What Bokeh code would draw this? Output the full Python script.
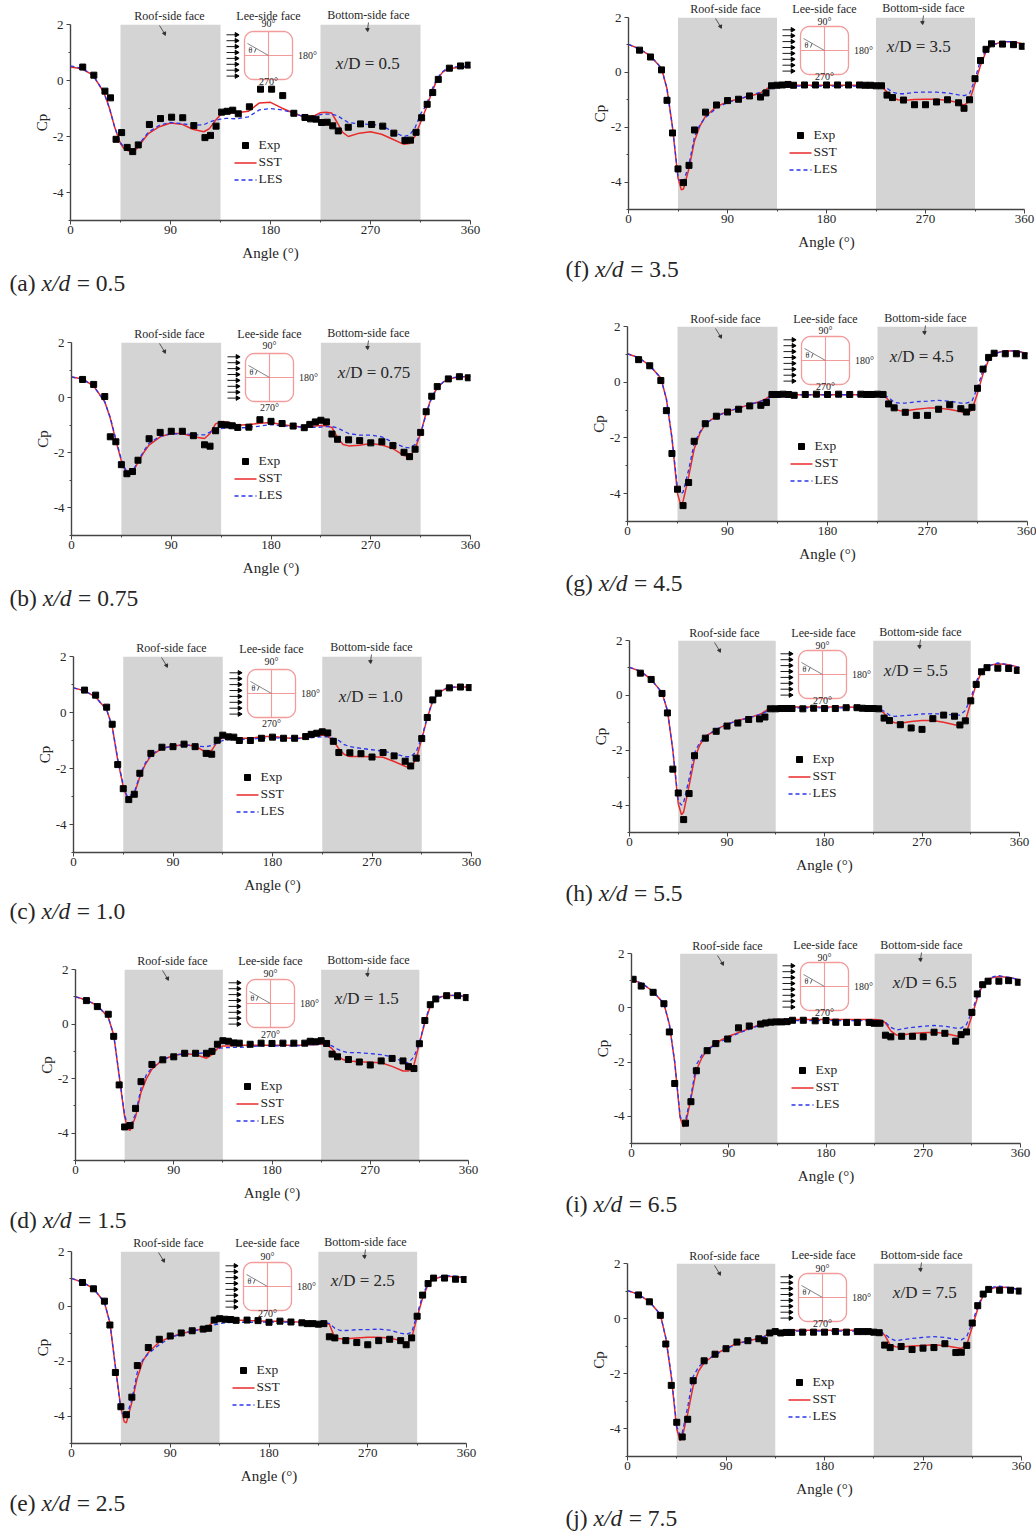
import math
import numpy as np
from bokeh.plotting import figure
from bokeh.layouts import row, column
from bokeh.models import Label, FixedTicker
from bokeh.embed import file_html
from bokeh.resources import INLINE

# ---------- data ----------
CURVE_ANGLE = [0,10,20,30,35,40,45,48,50,55,60,65,70,80,90,100,110,120,125,130,135,140,150,160,170,180,190,200,210,220,225,230,235,240,245,250,260,270,280,290,300,305,310,315,320,325,330,335,340,350,360]
EXP_ANGLE = [10,20,30,35,40,45,50,55,60,70,80,90,100,110,120,125,130,135,140,145,150,160,170,180,190,200,210,215,220,225,230,235,240,250,260,270,280,290,300,305,310,315,320,325,330,340,350,358]
EXP_ANGLE_A = [11,21,31,36,41,46,51,56,61,71,81,91,101,111,121,126,131,136,141,146,151,161,171,181,191,201,211,216,221,226,231,236,241,250,261,271,281,291,301,306,311,316,321,326,331,341,351,358]
EXP_ANGLE_I = [1.5,9,20,30,35,40,50,55,60,70,78,89,99,109,119.5,124,129,134,139,144,149,159,170,180,189,199,209,220,224.5,230,235,240,250,260,270,280,290,300,305,310,315,320,325,330,340,349,358]

EXP_A = [.48,.19,-.38,-.62,-2.1,-1.86,-2.39,-2.54,-2.3,-1.57,-1.36,-1.31,-1.33,-1.61,-2.04,-1.96,-1.63,-1.13,-1.1,-1.06,-1.19,-.94,-.31,-.31,-.54,-1.17,-1.32,-1.37,-1.38,-1.5,-1.49,-1.62,-1.8,-1.67,-1.55,-1.57,-1.63,-1.88,-2.14,-2.13,-1.85,-1.33,-.85,-.43,.04,.44,.52,.55]
EXP_B = [.66,.48,.04,-1.42,-1.6,-2.43,-2.76,-2.68,-2.27,-1.49,-1.26,-1.22,-1.22,-1.38,-1.71,-1.76,-1.2,-.97,-.99,-1.02,-1.08,-1.07,-.8,-.86,-.94,-1.03,-1.09,-.97,-.88,-.82,-.88,-1.32,-1.51,-1.53,-1.56,-1.64,-1.6,-1.74,-1.98,-2.14,-1.87,-1.26,-.51,.05,.4,.68,.76,.72]
EXP_C = [.8,.62,.19,-.42,-1.86,-2.72,-3.11,-2.92,-2.17,-1.46,-1.24,-1.22,-1.13,-1.22,-1.46,-1.49,-.99,-.81,-.87,-.88,-1.0,-1.0,-.92,-.88,-.92,-.92,-.86,-.78,-.74,-.69,-.73,-1.03,-1.43,-1.44,-1.47,-1.59,-1.43,-1.55,-1.74,-1.91,-1.63,-.93,-.18,.45,.69,.88,.91,.89]
EXP_D = [.86,.64,.36,-.45,-2.23,-3.77,-3.72,-3.09,-2.11,-1.48,-1.31,-1.2,-1.07,-1.07,-1.07,-1.0,-.74,-.61,-.63,-.69,-.7,-.74,-.7,-.71,-.7,-.7,-.7,-.63,-.65,-.61,-.71,-1.1,-1.2,-1.3,-1.39,-1.5,-1.35,-1.26,-1.35,-1.56,-1.63,-.72,.13,.71,.92,1.04,1.04,.97]
EXP_E = [.87,.64,.19,-.68,-2.41,-3.66,-3.95,-3.31,-2.16,-1.5,-1.2,-1.08,-.97,-.89,-.83,-.8,-.5,-.45,-.47,-.48,-.51,-.5,-.52,-.58,-.54,-.57,-.6,-.63,-.63,-.65,-.63,-1.11,-1.15,-1.25,-1.32,-1.4,-1.25,-1.2,-1.25,-1.4,-1.15,-.36,.41,.83,1.03,1.03,.99,.98]
EXP_F = [.81,.56,.09,-1.02,-2.21,-3.52,-4.02,-3.39,-2.1,-1.45,-1.19,-1.03,-.98,-.86,-.9,-.75,-.49,-.47,-.46,-.44,-.47,-.46,-.46,-.46,-.46,-.46,-.46,-.47,-.47,-.49,-.49,-.83,-.92,-1.01,-1.18,-1.18,-1.08,-1.0,-1.11,-1.31,-1.0,-.23,.43,.84,1.04,1.03,1.01,.95]
EXP_G = [.81,.59,.06,-1.02,-2.56,-3.84,-4.43,-3.6,-2.12,-1.49,-1.22,-1.07,-.97,-.85,-.83,-.73,-.44,-.44,-.43,-.44,-.47,-.44,-.43,-.44,-.43,-.44,-.43,-.44,-.44,-.43,-.44,-.78,-.92,-1.08,-1.19,-1.19,-.97,-.81,-.95,-1.07,-.9,-.22,.47,.89,1.04,1.02,1.02,.95]
EXP_H = [.81,.58,.07,-.64,-2.69,-3.56,-4.53,-3.58,-2.2,-1.56,-1.31,-1.12,-1.01,-.88,-.86,-.79,-.49,-.49,-.48,-.48,-.48,-.49,-.47,-.48,-.48,-.45,-.45,-.47,-.48,-.48,-.49,-.83,-.92,-1.07,-1.19,-1.24,-.85,-.72,-.76,-1.08,-.93,-.2,.4,.86,1.01,.99,.98,.91]
EXP_I = [1.05,.8,.57,.15,-.89,-2.79,-4.25,-3.46,-2.32,-1.58,-1.32,-1.15,-.74,-.67,-.6,-.56,-.53,-.52,-.52,-.51,-.46,-.46,-.48,-.47,-.53,-.54,-.54,-.54,-.57,-.57,-1.01,-1.07,-1.05,-1.05,-1.07,-.9,-.94,-1.23,-.99,-.89,-.17,.51,.85,.98,.98,1.0,.94]
EXP_J = [.86,.61,.12,-.92,-2.42,-3.76,-4.29,-3.65,-2.25,-1.53,-1.29,-1.09,-.85,-.8,-.73,-.8,-.52,-.47,-.52,-.5,-.5,-.49,-.49,-.49,-.47,-.49,-.47,-.47,-.47,-.49,-.51,-.96,-1.05,-1.01,-1.12,-1.07,-1.05,-.91,-1.23,-1.22,-.97,-.16,.47,.89,1.06,1.03,1.03,1.0]

SST_A = [.48,.42,.2,-.42,-.98,-1.7,-2.25,-2.42,-2.48,-2.55,-2.42,-2.15,-1.9,-1.65,-1.52,-1.56,-1.74,-1.83,-1.72,-1.45,-1.22,-1.18,-1.15,-1.1,-.8,-.78,-.98,-1.15,-1.3,-1.25,-1.15,-1.13,-1.16,-1.5,-1.85,-2.0,-1.88,-1.83,-1.92,-2.1,-2.28,-2.25,-2.0,-1.5,-1.0,-.45,.05,.3,.42,.47,.48]
LES_A = [.52,.44,.2,-.42,-.98,-1.7,-2.22,-2.38,-2.45,-2.5,-2.38,-2.1,-1.85,-1.6,-1.5,-1.54,-1.6,-1.58,-1.48,-1.42,-1.38,-1.35,-1.37,-1.3,-1.05,-1.0,-1.05,-1.15,-1.3,-1.28,-1.22,-1.2,-1.2,-1.25,-1.38,-1.5,-1.55,-1.57,-1.6,-1.83,-2.0,-1.95,-1.7,-1.2,-.9,-.35,.08,.32,.47,.5,.5]
SST_B = [.75,.68,.42,-.15,-.75,-1.55,-2.3,-2.6,-2.72,-2.72,-2.35,-2.0,-1.72,-1.42,-1.3,-1.3,-1.42,-1.48,-1.3,-.95,-.87,-.88,-1.0,-.97,-.93,-.9,-.98,-1.03,-1.07,-1.03,-1.01,-1.02,-1.08,-1.45,-1.7,-1.75,-1.73,-1.66,-1.72,-1.85,-2.1,-2.15,-1.85,-1.3,-.55,.02,.35,.55,.68,.76,.76]
LES_B = [.75,.67,.42,-.15,-.72,-1.5,-2.25,-2.55,-2.68,-2.68,-2.3,-1.95,-1.65,-1.4,-1.32,-1.3,-1.35,-1.35,-1.25,-1.15,-1.12,-1.1,-1.1,-1.08,-1.03,-.98,-1.02,-1.05,-1.07,-1.08,-1.07,-1.05,-1.05,-1.1,-1.2,-1.3,-1.36,-1.36,-1.42,-1.62,-1.8,-1.82,-1.7,-1.3,-.6,0,.35,.55,.7,.76,.76]
SST_C = [.88,.78,.55,.1,-.5,-1.7,-2.65,-3.0,-3.05,-2.9,-2.3,-1.85,-1.55,-1.28,-1.2,-1.15,-1.2,-1.42,-1.35,-1.05,-.88,-.87,-.92,-.92,-.87,-.85,-.9,-.93,-.9,-.82,-.8,-.85,-1.0,-1.3,-1.5,-1.57,-1.57,-1.58,-1.6,-1.75,-1.92,-1.98,-1.65,-.95,-.2,.42,.68,.82,.88,.92,.9]
LES_C = [.88,.78,.55,.1,-.5,-1.65,-2.6,-2.95,-3.0,-2.85,-2.25,-1.8,-1.5,-1.28,-1.2,-1.15,-1.2,-1.22,-1.18,-1.08,-1.0,-.97,-.97,-.95,-.92,-.9,-.92,-.93,-.92,-.88,-.87,-.87,-.92,-1.0,-1.15,-1.22,-1.28,-1.33,-1.38,-1.47,-1.58,-1.58,-1.4,-.9,-.15,.42,.7,.84,.9,.92,.9]
SST_D = [1.0,.88,.68,.25,-.4,-1.9,-3.4,-3.85,-3.9,-3.4,-2.5,-2.0,-1.65,-1.3,-1.15,-1.08,-1.12,-1.25,-1.12,-.9,-.8,-.8,-.78,-.78,-.78,-.78,-.78,-.78,-.77,-.75,-.73,-.75,-.9,-1.15,-1.3,-1.35,-1.38,-1.4,-1.42,-1.55,-1.72,-1.72,-1.5,-.72,.05,.65,.92,1.0,1.05,1.05,1.0]
LES_D = [1.0,.88,.68,.25,-.4,-1.85,-3.35,-3.7,-3.75,-3.3,-2.35,-1.85,-1.6,-1.3,-1.15,-1.08,-1.08,-1.05,-1.0,-.9,-.87,-.86,-.85,-.83,-.8,-.8,-.8,-.8,-.78,-.75,-.73,-.72,-.8,-.92,-1.0,-1.05,-1.05,-1.08,-1.12,-1.2,-1.38,-1.42,-1.2,-.7,.1,.7,.92,1.0,1.05,1.05,1.0]
SST_E = [1.02,.88,.65,.15,-.6,-2.2,-3.7,-4.2,-4.25,-3.5,-2.6,-2.0,-1.68,-1.3,-1.12,-1.0,-.9,-.82,-.72,-.52,-.5,-.5,-.5,-.52,-.53,-.54,-.54,-.56,-.57,-.6,-.6,-.6,-.65,-1.15,-1.18,-1.18,-1.15,-1.13,-1.13,-1.15,-1.25,-1.38,-1.15,-.4,.3,.8,1.0,1.05,1.1,1.08,1.03]
LES_E = [1.02,.88,.65,.15,-.6,-2.2,-3.8,-4.0,-4.02,-3.4,-2.4,-1.95,-1.72,-1.4,-1.15,-1.0,-.9,-.83,-.77,-.68,-.63,-.6,-.58,-.58,-.58,-.57,-.57,-.58,-.6,-.62,-.62,-.6,-.62,-.8,-.88,-.88,-.85,-.85,-.83,-.87,-.98,-1.02,-.95,-.3,.4,.85,1.0,1.05,1.12,1.1,1.03]
SST_F = [1.02,.85,.6,.15,-.6,-2.0,-3.85,-4.28,-4.25,-3.5,-2.5,-1.95,-1.6,-1.25,-1.07,-.97,-.87,-.75,-.62,-.48,-.47,-.47,-.47,-.47,-.47,-.47,-.47,-.47,-.47,-.47,-.47,-.5,-.72,-.92,-1.0,-1.03,-.99,-.98,-.98,-1.03,-1.1,-1.2,-1.05,-.4,.25,.75,1.0,1.05,1.12,1.12,1.02]
LES_F = [1.02,.85,.6,.15,-.6,-2.0,-3.8,-4.05,-4.0,-3.35,-2.35,-1.9,-1.65,-1.3,-1.1,-.98,-.85,-.72,-.65,-.57,-.52,-.5,-.5,-.5,-.5,-.5,-.5,-.5,-.5,-.5,-.5,-.52,-.58,-.72,-.78,-.78,-.73,-.72,-.72,-.75,-.82,-.85,-.78,-.25,.45,.8,1.0,1.05,1.12,1.12,1.02]
SST_G = [1.02,.88,.6,.15,-.6,-2.0,-4.0,-4.42,-4.28,-3.4,-2.4,-1.85,-1.5,-1.22,-1.05,-.93,-.8,-.68,-.58,-.45,-.45,-.45,-.45,-.45,-.45,-.45,-.45,-.45,-.45,-.45,-.45,-.45,-.65,-.95,-1.02,-1.03,-.97,-.93,-.93,-.98,-1.05,-1.13,-1.0,-.4,.3,.8,1.02,1.08,1.13,1.12,1.03]
LES_G = [1.02,.88,.6,.15,-.6,-2.0,-3.8,-4.0,-3.95,-3.15,-2.2,-1.8,-1.5,-1.22,-1.05,-.93,-.8,-.68,-.62,-.55,-.5,-.47,-.45,-.45,-.45,-.45,-.45,-.45,-.45,-.45,-.45,-.45,-.55,-.72,-.75,-.75,-.7,-.68,-.65,-.68,-.75,-.75,-.68,-.2,.45,.85,1.03,1.08,1.13,1.12,1.03]
SST_H = [1.02,.88,.58,.1,-.55,-2.0,-3.95,-4.35,-4.25,-3.3,-2.3,-1.8,-1.5,-1.25,-1.05,-.92,-.82,-.7,-.58,-.45,-.45,-.43,-.42,-.42,-.42,-.42,-.42,-.42,-.43,-.45,-.46,-.48,-.65,-.92,-1.0,-1.02,-.95,-.92,-.92,-.98,-1.07,-1.12,-.95,-.25,.4,.85,1.05,1.12,1.15,1.12,1.02]
LES_H = [1.02,.88,.58,.1,-.55,-2.0,-3.85,-4.0,-3.9,-3.05,-2.1,-1.7,-1.5,-1.25,-1.05,-.92,-.82,-.7,-.62,-.52,-.5,-.47,-.46,-.46,-.46,-.46,-.46,-.46,-.46,-.46,-.47,-.48,-.58,-.72,-.77,-.75,-.72,-.68,-.67,-.68,-.72,-.72,-.55,-.1,.5,.9,1.05,1.12,1.18,1.12,1.02]
SST_I = [1.05,.88,.6,.15,-.6,-2.0,-4.05,-4.38,-4.3,-3.35,-2.3,-1.85,-1.55,-1.25,-1.05,-.9,-.75,-.6,-.52,-.47,-.43,-.43,-.43,-.43,-.43,-.43,-.43,-.43,-.43,-.43,-.43,-.45,-.55,-.85,-1.0,-1.0,-.95,-.92,-.9,-.95,-1.03,-1.08,-.9,-.3,.35,.85,1.05,1.12,1.15,1.12,1.02]
LES_I = [1.05,.9,.6,.15,-.6,-2.0,-4.0,-4.25,-4.15,-3.25,-2.1,-1.75,-1.55,-1.3,-1.1,-.92,-.78,-.62,-.56,-.52,-.5,-.5,-.47,-.47,-.47,-.47,-.47,-.47,-.47,-.47,-.47,-.47,-.53,-.72,-.82,-.78,-.72,-.68,-.65,-.68,-.75,-.75,-.62,-.15,.45,.88,1.05,1.15,1.18,1.12,1.02]
SST_J = [1.02,.88,.62,.15,-.7,-2.1,-4.0,-4.42,-4.3,-3.45,-2.45,-1.9,-1.6,-1.3,-1.08,-.9,-.8,-.72,-.65,-.5,-.47,-.45,-.43,-.42,-.42,-.42,-.42,-.42,-.42,-.43,-.43,-.45,-.6,-.95,-1.02,-1.03,-.99,-.97,-.95,-.98,-1.05,-1.08,-.95,-.3,.35,.85,1.05,1.12,1.15,1.12,1.03]
LES_J = [1.02,.88,.62,.15,-.7,-2.05,-3.9,-4.25,-4.15,-3.2,-2.1,-1.75,-1.55,-1.32,-1.1,-.92,-.8,-.72,-.65,-.55,-.52,-.48,-.45,-.45,-.45,-.45,-.45,-.45,-.45,-.45,-.45,-.47,-.55,-.72,-.8,-.77,-.72,-.68,-.65,-.68,-.75,-.77,-.65,-.15,.45,.88,1.05,1.15,1.18,1.12,1.03]

FACE_START = [45, 225]
FACE_END = [135, 315]
X_TICKS = [0, 90, 180, 270, 360]
X_MINOR = [45, 135, 225, 315]
Y_TICKS = [-4, -2, 0, 2]
Y_MINOR = [-5, -3, -1, 1]

FONT = "Liberation Serif"
INK = "#262626"
RED = "#ea2a2a"
BLUE = "#2a35ee"
PAGE_W, PAGE_H = 1036, 1533

# ---------- page geometry (pixels of the 1036x1533 page) ----------
PANELS = [
 dict(tag="(a)", em=1.11, xd="0.5",  D="0.5",  x=(70,470),  y=(24,220),   cell=(0,320,0,560), curve=(SST_A,LES_A), ex=(EXP_ANGLE_A,EXP_A),
      roof=(169,16),  lee=(268,16),  bot=(368,15),  ins=(268,55),  up=31,dn=27, xD=(367,64),  leg=(245,145),  cap=(9,283)),
 dict(tag="(b)", em=1.17, xd="0.75", D="0.75", x=(71,470),  y=(342,535),  cell=(320,635,0,560), curve=(SST_B,LES_B), ex=(EXP_ANGLE,EXP_B),
      roof=(169,334), lee=(269,334), bot=(368,333), ins=(269,377), up=31,dn=31, xD=(369,373), leg=(245,461),  cap=(9,598)),
 dict(tag="(c)", em=1.11, xd="1.0",  D="1.0",  x=(73,471),  y=(656,852),  cell=(635,945,0,560), curve=(SST_C,LES_C), ex=(EXP_ANGLE,EXP_C),
      roof=(171,648), lee=(271,649), bot=(371,647), ins=(271,693), up=31,dn=31, xD=(370,697), leg=(247,777),  cap=(9,911)),
 dict(tag="(d)", em=1.17, xd="1.5",  D="1.5",  x=(75,468),  y=(969,1160), cell=(945,1235,0,560), curve=(SST_D,LES_D), ex=(EXP_ANGLE,EXP_D),
      roof=(172,961), lee=(270,961), bot=(368,960), ins=(270,1003),up=29,dn=32, xD=(366,999), leg=(247,1086), cap=(9,1220)),
 dict(tag="(e)", em=1.11, xd="2.5",  D="2.5",  x=(71,466),  y=(1251,1443),cell=(1235,1533,0,560), curve=(SST_E,LES_E), ex=(EXP_ANGLE,EXP_E),
      roof=(168,1243),lee=(267,1243),bot=(365,1242),ins=(267,1286),up=29,dn=28, xD=(362,1281),leg=(243,1370), cap=(9,1503)),
 dict(tag="(f)", em=1.0,  xd="3.5",  D="3.5",  x=(628,1024),y=(17,209),   cell=(0,305,560,1036), curve=(SST_F,LES_F), ex=(EXP_ANGLE,EXP_F),
      roof=(725,9),   lee=(824,9),   bot=(923,8),   ins=(824,50),  up=28,dn=27, xD=(918,47),  leg=(800,135),  cap=(565,269)),
 dict(tag="(g)", em=1.17, xd="4.5",  D="4.5",  x=(627,1027),y=(326,521),  cell=(305,620,560,1036), curve=(SST_G,LES_G), ex=(EXP_ANGLE,EXP_G),
      roof=(725,319), lee=(825,319), bot=(925,318), ins=(825,360), up=29,dn=27, xD=(921,357), leg=(801,446),  cap=(565,583)),
 dict(tag="(h)", em=1.17, xd="5.5",  D="5.5",  x=(629,1019),y=(640,832),  cell=(620,935,560,1036), curve=(SST_H,LES_H), ex=(EXP_ANGLE,EXP_H),
      roof=(724,633), lee=(823,633), bot=(920,632), ins=(822,674), up=28,dn=27, xD=(915,671), leg=(799,759),  cap=(565,893)),
 dict(tag="(i)", em=0.94, xd="6.5",  D="6.5",  x=(631,1020),y=(953,1143), cell=(935,1245,560,1036), curve=(SST_I,LES_I), ex=(EXP_ANGLE_I,EXP_I),
      roof=(727,946), lee=(825,945), bot=(921,945), ins=(824,986), up=28,dn=27, xD=(924,983), leg=(802,1070), cap=(565,1204)),
 dict(tag="(j)", em=0.94, xd="7.5",  D="7.5",  x=(627,1021),y=(1263,1456),cell=(1245,1533,560,1036), curve=(SST_J,LES_J), ex=(EXP_ANGLE,EXP_J),
      roof=(724,1256),lee=(823,1255),bot=(921,1255),ins=(822,1297),up=28,dn=27, xD=(924,1293),leg=(799,1382), cap=(565,1518)),
]

def rounded_square(half, r, n=8):
    xs, ys = [], []
    corners = [(half-r, -(half-r), -90), (half-r, half-r, 0), (-(half-r), half-r, 90), (-(half-r), -(half-r), 180)]
    for cx, cy, a0 in corners:
        for k in range(n+1):
            a = math.radians(a0 + 90*k/n)
            xs.append(cx + r*math.cos(a))
            ys.append(cy + r*math.sin(a))
    xs.append(xs[0]); ys.append(ys[0])
    return np.array(xs), np.array(ys)

def panel(g):
    (x0, x1), (y0, y1) = g["x"], g["y"]
    top, bottom, left, right = g["cell"]
    p = figure(width=right-left, height=bottom-top, x_range=(0, 360), y_range=(-5, 2),
               min_border_left=x0-left, min_border_right=right-x1,
               min_border_top=y0-top, min_border_bottom=bottom-y1, frame_align=False,
               output_backend="svg", toolbar_location=None, background_fill_color="white",
               border_fill_color=None, outline_line_color=None)
    p.grid.visible = False
    for ax, label, ticks, minor in ((p.xaxis[0], "Angle (°)", X_TICKS, X_MINOR), (p.yaxis[0], "Cp", Y_TICKS, Y_MINOR)):
        ax.ticker = FixedTicker(ticks=ticks, minor_ticks=minor)
        ax.axis_label = label
        ax.axis_label_text_font = FONT
        ax.axis_label_text_font_style = "normal"
        ax.axis_label_text_font_size = "15px"
        ax.axis_label_text_color = INK
        ax.major_label_text_font = FONT
        ax.major_label_text_font_size = "13px"
        ax.major_label_text_color = INK
        ax.major_label_overrides = {t: str(t) for t in ticks}
        ax.axis_line_color = "#444444"
        ax.axis_line_width = 1.4
        ax.major_tick_line_color = "#444444"
        ax.minor_tick_line_color = "#444444"
        ax.major_tick_out = 4
        ax.major_tick_in = 0
        ax.minor_tick_out = 2
        ax.minor_tick_in = 0
    p.xaxis[0].major_label_standoff = 1
    p.xaxis[0].axis_label_standoff = 8
    p.yaxis[0].major_label_standoff = 3
    p.yaxis[0].axis_label_standoff = 0

    p.quad(left=FACE_START, right=FACE_END, bottom=-5, top=2, fill_color="#d4d4d4", line_color=None)
    sst, les = g["curve"]
    assert len(sst) == len(CURVE_ANGLE) and len(les) == len(CURVE_ANGLE), g["tag"]
    assert len(g["ex"][0]) == len(g["ex"][1]), g["tag"]
    p.line(CURVE_ANGLE, sst, line_color=RED, line_width=1.5)
    p.line(CURVE_ANGLE, les, line_color=BLUE, line_width=1.3, line_dash="4 3")
    p.scatter(g["ex"][0], g["ex"][1], marker="square", size=6, color="black")
    return p

# A transparent sheet over the whole page carries the texts, the sketch and the legend keys,
# because a Bokeh label does not show outside the frame of its own figure.
sheet = figure(width=PAGE_W, height=PAGE_H, x_range=(0, PAGE_W), y_range=(PAGE_H, 0),
               min_border=0, min_border_left=0, min_border_right=0, min_border_top=0, min_border_bottom=0,
               x_axis_location=None, y_axis_location=None, frame_align=False,
               output_backend="svg", toolbar_location=None, background_fill_color=None,
               border_fill_color=None, outline_line_color=None, margin=(-PAGE_H, 0, 0, 0))
sheet.grid.visible = False
sheet.xgrid.visible = False
sheet.ygrid.visible = False

def text(px, py, s, size, style="normal", align="center"):
    sheet.add_layout(Label(x=px, y=py-1, text=s, text_font=FONT, text_font_size=f"{size}px",
                           text_font_style=style, text_align=align, text_baseline="middle", text_color=INK))

def decorate(g):
    for key, name, dx0, dy0, dx1, dy1 in (("roof", "Roof-side face", -10, 9, -5, 17), ("lee", "Lee-side face", 0, 0, 0, 0),
                                          ("bot", "Bottom-side face", 0, 7, -1, 14)):
        cx, cy = g[key]
        text(cx, cy, name, 12)
        if key != "lee":
            sheet.line([cx+dx0, cx+dx1], [cy+dy0, cy+dy1], line_color="#333333", line_width=0.8)
            sheet.scatter([cx+dx1], [cy+dy1], marker="triangle", size=3.5, color="#333333",
                          angle=math.radians(180 + (25 if key == "roof" else 5)))

    ix, iy = g["ins"]
    sx, sy = rounded_square(24, 9)
    sheet.line(ix+sx, iy+sy, line_color="#f39a9a", line_width=1.3)
    sheet.line([ix-24, ix+24], [iy, iy], line_color="#f39a9a", line_width=1.1)
    sheet.line([ix, ix], [iy-24, iy+24], line_color="#f39a9a", line_width=1.1)
    sheet.line([ix, ix-21], [iy, iy-12], line_color="#777777", line_width=0.9)
    sheet.line([ix-14, ix-12.5], [iy-3, iy-7], line_color="#333333", line_width=0.8)
    text(ix-18, iy-4, "θ", 8)
    text(ix, iy-g["up"], "90°", 10)
    text(ix+39, iy+1, "180°", 10)
    text(ix, iy+g["dn"], "270°", 10)
    wind = [iy-20.7+5.9*k for k in range(8)]
    for wy in wind:
        sheet.line([ix-42, ix-32], [wy, wy], line_color="black", line_width=0.9)
    sheet.scatter([ix-32]*8, wind, marker="triangle", size=4.5, color="black", angle=math.radians(-90))

    dx, dy = g["xD"]
    fs = 17
    start = dx - 3.75*fs/2
    text(start, dy, "x", fs, "italic", "left")
    text(start + 0.46*fs, dy, "/D = " + g["D"], fs, "normal", "left")

    mx, my = g["leg"]
    sheet.scatter([mx], [my], marker="square", size=6, color="black")
    sheet.line([mx-11, mx+11], [my+17.5, my+17.5], line_color=RED, line_width=1.5)
    sheet.line([mx-11, mx+11], [my+34.5, my+34.5], line_color=BLUE, line_width=1.3, line_dash="4 3")
    text(mx+13, my, "Exp", 13.5, align="left")
    text(mx+13, my+17, "SST", 13.5, align="left")
    text(mx+13, my+34, "LES", 13.5, align="left")

    cx, cy = g["cap"]
    cs = 23.5
    text(cx, cy, g["tag"], cs, align="left")
    xi = cx + (g["em"] + 0.25)*cs
    text(xi, cy, "x/d", cs, "italic", "left")
    text(xi + 1.5*cs, cy, "= " + g["xd"], cs, align="left")

figs = [panel(g) for g in PANELS]
for g in PANELS:
    decorate(g)
left_col = column(*figs[:5], spacing=0)
right_col = column(*figs[5:], spacing=0)
page = column(row(left_col, right_col, spacing=0), sheet, spacing=0)

open("out.html", "w").write(file_html(page, INLINE))
